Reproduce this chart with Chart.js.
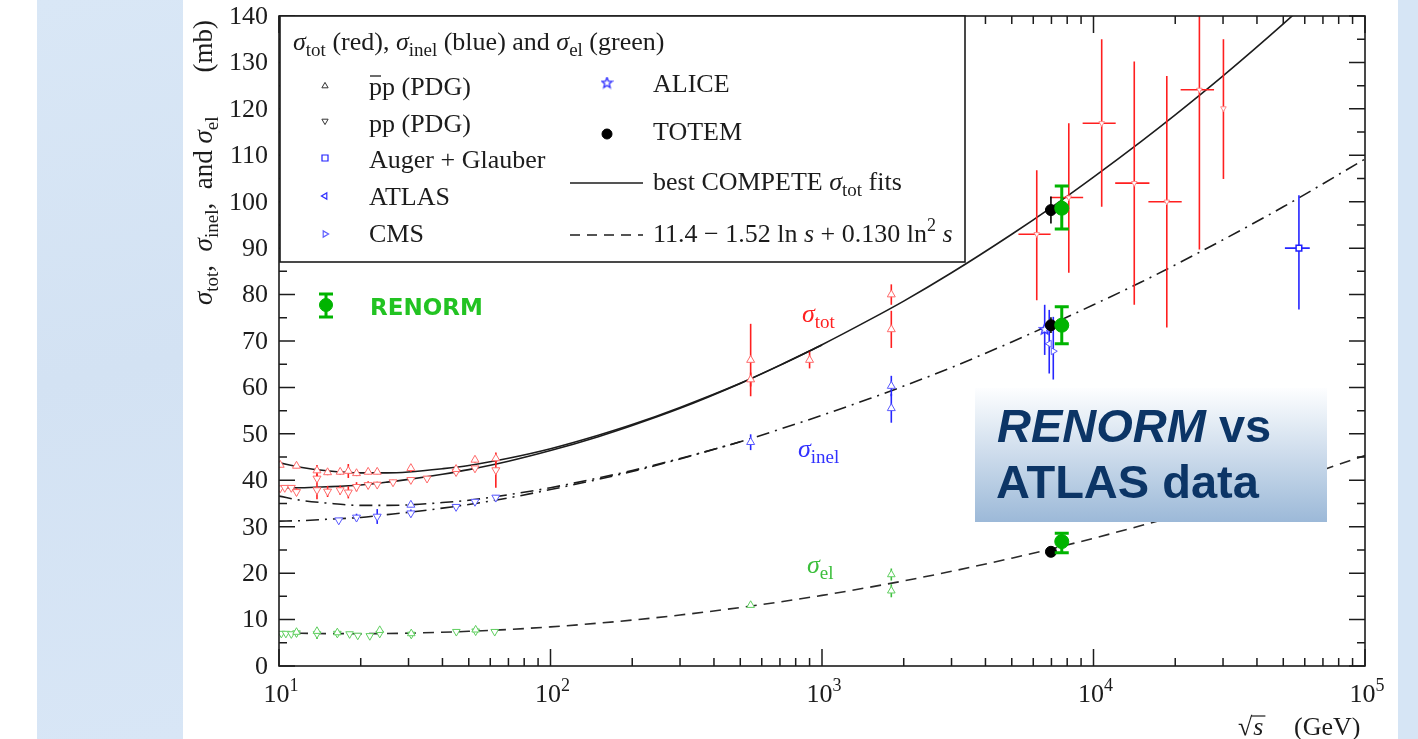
<!DOCTYPE html>
<html>
<head>
<meta charset="utf-8">
<script src="https://cdn.jsdelivr.net/npm/chart.js@4.4.1/dist/chart.umd.min.js"></script>
<style>
  html, body { margin: 0; padding: 0; background: #ffffff; overflow: hidden; }
  canvas { display: block; }
</style>
</head>
<body>
<canvas id="c" width="1418" height="739"></canvas>
<script>
// ---------------- data (sqrt(s) in GeV, cross sections in mb) ----------------

// axis ticks
const yTickValues = [0, 10, 20, 30, 40, 50, 60, 70, 80, 90, 100, 110, 120, 130, 140];
const xTickExponents = [1, 2, 3, 4, 5];

// PDG sigma_tot, pbar-p
const pbarTotS = [10.1, 11.6, 13.8, 15.1, 16.8, 18.0, 19.3, 21.3, 23.0, 30.6, 44.9, 52.7, 62.9, 546, 546, 900, 1800, 1800];
const pbarTotV = [43.3, 43.1, 42.1, 41.7, 41.8, 42.0, 41.5, 41.8, 41.8, 42.6, 42.4, 44.4, 44.7, 61.7, 65.9, 65.9, 80.0, 72.5];
const pbarTotE = [0.5, 0.5, 1.2, 0.6, 0.6, 1.5, 0.6, 0.5, 0.5, 0.8, 0.5, 0.6, 1.0, 1.5, 7.8, 1.8, 2.2, 4.0];

// PDG sigma_tot, pp
const ppTotS = [10.1, 10.5, 11.1, 11.6, 13.8, 13.8, 15.1, 16.8, 18.0, 19.3, 21.3, 23.0, 26.3, 30.6, 35.1, 44.9, 52.7, 62.9];
const ppTotV = [38.3, 38.4, 38.4, 37.5, 37.9, 40.4, 37.6, 37.9, 37.4, 38.6, 39.0, 39.1, 39.6, 40.1, 40.4, 41.8, 42.6, 42.2];
const ppTotE = [0.4, 0.4, 0.4, 0.8, 2.0, 1.0, 1.2, 1.0, 1.3, 1.0, 0.8, 0.6, 0.5, 0.5, 0.5, 0.4, 0.4, 3.8];

// PDG sigma_inel
const pbarInelS = [30.6, 546, 1800, 1800];
const pbarInelV = [34.7, 48.2, 60.3, 55.5];
const pbarInelE = [0.5, 1.7, 2.2, 3.1];
const ppInelS = [16.6, 19.3, 23.0, 30.6, 44.9, 52.7, 62.9];
const ppInelV = [31.4, 32.0, 32.2, 32.9, 34.3, 35.4, 36.3];
const ppInelE = [0.4, 0.8, 1.6, 0.8, 0.4, 0.4, 0.5];

// PDG sigma_el
const pbarElS = [11.6, 13.8, 16.4, 23.5, 30.7, 53.0, 546, 1800, 1800];
const pbarElV = [7.3, 7.5, 7.2, 7.7, 7.0, 7.8, 13.1, 19.7, 16.2];
const pbarElE = [0.3, 0.6, 0.4, 0.4, 0.3, 0.4, 0.4, 1.3, 1.4];
const ppElS = [10.2, 10.6, 11.1, 11.6, 13.8, 16.4, 18.2, 19.5, 21.6, 23.5, 30.7, 45.0, 53.0, 62.3];
const ppElV = [7.0, 7.0, 6.9, 7.1, 6.9, 7.0, 6.9, 6.6, 6.5, 7.0, 6.8, 7.4, 7.5, 7.4];
const ppElE = [0.3, 0.3, 0.3, 0.8, 1.1, 0.3, 0.3, 0.3, 0.3, 0.3, 0.3, 0.3, 0.4, 0.3];

// cosmic-ray sigma_tot (energy bins and asymmetric errors)
const crS   = [6180, 8110, 10720, 14130, 18620, 24550, 30100];
const crSLo = [5290, 6920, 9120, 12020, 15930, 20940, null];
const crSHi = [6950, 9160, 12070, 16070, 21130, 27800, null];
const crV   = [93.0, 100.9, 116.9, 104.0, 100.0, 124.1, 120.1];
const crVLo = [78.8, 84.7, 98.9, 77.8, 72.9, 89.7, 104.9];
const crVHi = [106.8, 116.9, 135.0, 130.2, 127.1, 152.0, 135.0];

// Auger + Glauber sigma_inel
const augerS = [57100], augerSLo = [50700], augerSHi = [62600];
const augerV = [90.0], augerVLo = [76.8], augerVHi = [101.4];

// LHC 7 TeV sigma_inel
const aliceS = [6610], aliceV = [72.5], aliceLo = [67.0], aliceHi = [77.8];
const atlasS = [6870], atlasV = [69.4], atlasLo = [63.0], atlasHi = [76.7];
const cmsS   = [7110], cmsV   = [67.8], cmsLo   = [61.7], cmsHi   = [75.2];

// TOTEM (tot, inel, el)
const totemS = [6970, 6970, 6970];
const totemV = [98.2, 73.4, 24.6];
const totemE = [2.9, 1.7, 1.0];

// RENORM (tot, inel, el)
const renormS  = [7640, 7640, 7640];
const renormV  = [98.6, 73.4, 26.8];
const renormLo = [94.1, 69.4, 24.4];
const renormHi = [103.4, 77.4, 28.6];

// best COMPETE sigma_tot fits
const fitTotS    = [10, 12, 15, 20, 25, 30, 40, 50, 70, 100, 150, 200, 300, 500, 700, 1000, 1500, 2000, 3000, 5000, 7000, 10000, 15000, 20000, 30000, 50000, 60000];
const fitTotPbar = [43.8, 42.8, 42.05, 41.6, 41.6, 41.8, 42.5, 43.2, 44.75, 46.8, 49.7, 52.0, 55.7, 60.9, 64.8, 69.2, 74.6, 78.6, 84.7, 93.0, 98.8, 105.3, 113.0, 118.7, 127.1, 138.3, 142.5];
const fitTotPpS  = [10, 12, 15, 20, 25, 30, 40, 50, 70, 100, 150, 200, 300, 500, 700, 1000];
const fitTotPp   = [38.4, 38.4, 38.6, 39.0, 39.6, 40.2, 41.3, 42.3, 44.1, 46.4, 49.4, 51.8, 55.5, 60.85, 64.75, 69.15];

// inelastic curves
const fitInelS    = [10, 12, 15, 20, 25, 30, 40, 50, 70, 100, 150, 200, 300, 500, 700, 1000, 1500, 2000, 3000, 5000, 7000, 10000, 15000, 20000, 30000, 50000, 100000];
const fitInelPbar = [36.6, 35.7, 35.1, 34.6, 34.6, 34.7, 35.2, 35.7, 36.9, 38.4, 40.5, 42.1, 44.7, 48.3, 51.0, 54.0, 57.6, 60.3, 64.3, 69.8, 73.6, 77.8, 82.7, 86.4, 91.8, 98.9, 109.2];
const fitInelPpS  = [10, 12, 15, 20, 25, 30, 40, 50, 70, 100, 150, 200, 300, 500];
const fitInelPp   = [31.2, 31.3, 31.6, 32.0, 32.6, 33.1, 34.0, 34.8, 36.2, 38.0, 40.2, 41.9, 44.6, 48.3];

// elastic curve 11.4 - 1.52 ln s + 0.130 ln^2 s
const fitElS = [10, 12, 15, 20, 30, 50, 70, 100, 150, 200, 300, 500, 700, 1000, 1500, 2000, 3000, 5000, 7000, 10000, 15000, 20000, 30000, 50000, 100000];
const fitElV = [7.16, 7.06, 6.98, 6.96, 7.08, 7.47, 7.87, 8.43, 9.22, 9.89, 10.98, 12.59, 13.80, 15.21, 16.98, 18.33, 20.39, 23.23, 25.24, 27.51, 30.25, 32.29, 35.32, 39.39, 45.33];

// ---------------- helpers ----------------
const SERIF = '"Liberation Serif","Times New Roman",serif';
const SANS = '"Liberation Sans",Arial,sans-serif';
const rm = s => `${s}px ${SERIF}`;
const it = s => `italic ${s}px ${SERIF}`;

const sym = (xs, vs, es) => xs.map((x, i) => ({ x, y: vs[i], lo: vs[i] - es[i], hi: vs[i] + es[i] }));
const asym = (xs, vs, lo, hi) => xs.map((x, i) => ({ x, y: vs[i], lo: lo[i], hi: hi[i] }));
const asymX = (xs, xlo, xhi, vs, lo, hi) => xs.map((x, i) => {
  const p = { x, y: vs[i], lo: lo[i], hi: hi[i] };
  if (xlo[i] !== null) { p.xlo = xlo[i]; p.xhi = xhi[i]; }
  return p;
});
const curve = (xs, vs) => xs.map((x, i) => ({ x, y: vs[i] }));

// hollow five-pointed star marker
function starImage(color) {
  const c = document.createElement('canvas');
  c.width = 13; c.height = 13;
  const g = c.getContext('2d');
  g.beginPath();
  for (let k = 0; k < 10; k++) {
    const r = k % 2 ? 2.4 : 5.5;
    const a = -Math.PI / 2 + k * Math.PI / 5;
    const px = 6.5 + r * Math.cos(a), py = 6.5 + r * Math.sin(a);
    k ? g.lineTo(px, py) : g.moveTo(px, py);
  }
  g.closePath();
  g.fillStyle = '#fff'; g.fill();
  g.strokeStyle = color; g.lineWidth = 1.3; g.stroke();
  return c;
}
const aliceStar = starImage('#2a2aff');

// rich text: parts = [{t, f, dy}]
function rich(ctx, x, y, parts) {
  let cx = x;
  for (const p of parts) {
    ctx.font = p.f;
    ctx.fillText(p.t, cx, y + (p.dy || 0));
    cx += ctx.measureText(p.t).width;
  }
  return cx - x;
}
function richWidth(ctx, parts) {
  let w = 0;
  for (const p of parts) { ctx.font = p.f; w += ctx.measureText(p.t).width; }
  return w;
}
const sig = (sub, size) => [{ t: 'σ', f: it(size) }, { t: sub, f: rm(Math.round(size * 0.72)), dy: Math.round(size * 0.22) }];

function mark(ctx, kind, x, y, r, stroke, fill, lw) {
  ctx.save();
  ctx.strokeStyle = stroke; ctx.fillStyle = fill; ctx.lineWidth = lw || 1;
  ctx.beginPath();
  const tri = rot => {
    for (let k = 0; k < 3; k++) {
      const a = rot - Math.PI / 2 + k * 2 * Math.PI / 3;
      const px = x + r * Math.cos(a), py = y + r * Math.sin(a);
      k ? ctx.lineTo(px, py) : ctx.moveTo(px, py);
    }
    ctx.closePath();
  };
  if (kind === 'up') tri(0);
  else if (kind === 'down') tri(Math.PI);
  else if (kind === 'left') tri(-Math.PI / 2);
  else if (kind === 'right') tri(Math.PI / 2);
  else if (kind === 'square') ctx.rect(x - r, y - r, 2 * r, 2 * r);
  else if (kind === 'circle') ctx.arc(x, y, r, 0, 2 * Math.PI);
  ctx.fill(); ctx.stroke();
  ctx.restore();
}

// ---------------- colours ----------------
const RED_BAR = '#ff1f1f', RED_MK = '#ff6a6a';
const BLUE_BAR = '#2626ff', BLUE_MK = '#5a5aff';
const GREEN_BAR = '#3fbf3f', GREEN_MK = '#5fcf5f';
const RENORM_GREEN = '#00b400';
const INK = '#1c1c1c';

// ---------------- plugins ----------------
const backdrop = {
  id: 'backdrop',
  beforeDraw(chart) {
    const ctx = chart.ctx;
    ctx.save();
    ctx.fillStyle = '#ffffff';
    ctx.fillRect(0, 0, chart.width, chart.height);
    const g1 = ctx.createLinearGradient(37, 0, 183, 739);
    g1.addColorStop(0, '#d9e7f6'); g1.addColorStop(0.5, '#d3e2f3'); g1.addColorStop(1, '#d8e6f6');
    ctx.fillStyle = g1;
    ctx.fillRect(37, 0, 146, 739);
    ctx.fillStyle = '#d6e5f5';
    ctx.fillRect(1398, 0, 20, 739);
    ctx.restore();
  }
};

const errorBars = {
  id: 'errorBars',
  beforeDatasetDraw(chart, args) {
    const ds = chart.data.datasets[args.index];
    const eb = ds.errorBar;
    if (!eb) return;
    const { ctx, chartArea: a } = chart;
    const xs = chart.scales.x, ys = chart.scales.y;
    ctx.save();
    ctx.beginPath();
    ctx.rect(a.left, a.top, a.right - a.left, a.bottom - a.top);
    ctx.clip();
    ctx.strokeStyle = eb.color;
    ctx.lineWidth = eb.width;
    for (const p of ds.data) {
      const px = xs.getPixelForValue(p.x), py = ys.getPixelForValue(p.y);
      ctx.beginPath();
      if (p.lo !== undefined) {
        const y1 = ys.getPixelForValue(p.lo), y2 = ys.getPixelForValue(p.hi);
        ctx.moveTo(px, y1); ctx.lineTo(px, y2);
        if (eb.cap) {
          ctx.moveTo(px - eb.cap, y1); ctx.lineTo(px + eb.cap, y1);
          ctx.moveTo(px - eb.cap, y2); ctx.lineTo(px + eb.cap, y2);
        }
      }
      if (p.xlo !== undefined) {
        ctx.moveTo(xs.getPixelForValue(p.xlo), py);
        ctx.lineTo(xs.getPixelForValue(p.xhi), py);
      }
      ctx.stroke();
    }
    ctx.restore();
  }
};

const frame = {
  id: 'frame',
  afterDatasetsDraw(chart) {
    const { ctx, chartArea: a } = chart;
    const xs = chart.scales.x, ys = chart.scales.y;
    ctx.save();

    // axes box
    ctx.strokeStyle = INK; ctx.lineWidth = 1.6;
    ctx.strokeRect(a.left, a.top, a.right - a.left, a.bottom - a.top);

    // y ticks (both sides, inward)
    ctx.lineWidth = 1.5;
    ctx.beginPath();
    for (let v = 0; v <= 140; v += 5) {
      const y = ys.getPixelForValue(v);
      const len = v % 10 === 0 ? 16 : 8;
      ctx.moveTo(a.left, y); ctx.lineTo(a.left + len, y);
      ctx.moveTo(a.right, y); ctx.lineTo(a.right - len, y);
    }
    // x ticks (bottom and top, inward)
    for (let e = 1; e <= 5; e++) {
      for (let m = 1; m <= 9; m++) {
        if (e === 5 && m > 1) break;
        const v = m * Math.pow(10, e);
        const x = xs.getPixelForValue(v);
        const len = m === 1 ? 17 : 8;
        ctx.moveTo(x, a.bottom); ctx.lineTo(x, a.bottom - len);
        ctx.moveTo(x, a.top); ctx.lineTo(x, a.top + len);
      }
    }
    ctx.stroke();

    // y tick labels
    ctx.fillStyle = INK;
    ctx.font = rm(26);
    ctx.textAlign = 'right';
    ctx.textBaseline = 'middle';
    for (const v of yTickValues) ctx.fillText(String(v), 268, ys.getPixelForValue(v) + 1);

    // x tick labels 10^n
    ctx.textAlign = 'left';
    ctx.textBaseline = 'alphabetic';
    for (const e of xTickExponents) {
      const x = xs.getPixelForValue(Math.pow(10, e));
      const parts = [{ t: '10', f: rm(26) }, { t: String(e), f: rm(18), dy: -11 }];
      const w = richWidth(ctx, parts);
      rich(ctx, x - w / 2 + 2, 702, parts);
    }

    // x axis title: sqrt(s) (GeV)
    ctx.font = rm(26);
    ctx.fillText('√', 1238, 735);
    const rw = ctx.measureText('√').width;
    ctx.font = it(26);
    ctx.fillText('s', 1238 + rw + 1, 735);
    const sw = ctx.measureText('s').width;
    ctx.beginPath(); ctx.lineWidth = 1.2;
    ctx.moveTo(1238 + rw - 1, 716); ctx.lineTo(1238 + rw + sw + 3, 716); ctx.stroke();
    ctx.font = rm(26);
    ctx.fillText('(GeV)', 1294, 735);

    // y axis title (rotated), running from y=305 up to y=20
    const yt = [...sig('tot', 27), { t: ',  ', f: rm(27) }, ...sig('inel', 27), { t: ',  and ', f: rm(27) }, ...sig('el', 27)];
    ctx.save();
    ctx.translate(212, 305);
    ctx.rotate(-Math.PI / 2);
    rich(ctx, 0, 0, yt);
    ctx.font = rm(27);
    ctx.textAlign = 'right';
    ctx.fillText('(mb)', 285, 0);
    ctx.restore();
    ctx.textAlign = 'left';

    // curve labels
    ctx.fillStyle = '#ff2020';
    rich(ctx, 802, 322, sig('tot', 26));
    ctx.fillStyle = '#3232ff';
    rich(ctx, 798, 457, sig('inel', 26));
    ctx.fillStyle = '#3cbf3c';
    rich(ctx, 807, 573, sig('el', 26));

    // legend box
    ctx.fillStyle = '#ffffff';
    ctx.fillRect(280, 16, 685, 246);
    ctx.strokeStyle = INK; ctx.lineWidth = 1.6;
    ctx.strokeRect(280, 16, 685, 246);
    ctx.fillStyle = INK;
    rich(ctx, 293, 50, [...sig('tot', 26), { t: ' (red), ', f: rm(26) }, ...sig('inel', 26), { t: ' (blue) and ', f: rm(26) }, ...sig('el', 26), { t: ' (green)', f: rm(26) }]);

    const lx = 325, tx = 369;
    mark(ctx, 'up', lx, 86, 3.6, '#333', '#fff', 1);
    mark(ctx, 'down', lx, 121, 3.6, '#333', '#fff', 1);
    mark(ctx, 'square', lx, 158, 3, '#2020ff', '#fff', 1.2);
    mark(ctx, 'left', lx, 196, 3.6, '#3030ff', '#fff', 1.2);
    mark(ctx, 'right', lx, 234, 3.6, '#6060ff', '#fff', 1.2);
    ctx.font = rm(26);
    ctx.fillText('pp (PDG)', tx, 95);
    ctx.beginPath(); ctx.lineWidth = 1.3;
    ctx.moveTo(tx + 1, 76); ctx.lineTo(tx + 12, 76); ctx.stroke();
    ctx.fillText('pp (PDG)', tx, 132);
    ctx.fillText('Auger + Glauber', tx, 168);
    ctx.fillText('ATLAS', tx, 205);
    ctx.fillText('CMS', tx, 242);

    const rx = 607, rtx = 653;
    ctx.drawImage(aliceStar, rx - 6.5, 83 - 6.5);
    mark(ctx, 'circle', rx, 134, 5, '#000', '#000', 1);
    ctx.fillStyle = INK;
    ctx.font = rm(26);
    ctx.fillText('ALICE', rtx, 92);
    ctx.fillText('TOTEM', rtx, 140);
    ctx.beginPath(); ctx.lineWidth = 1.5; ctx.strokeStyle = INK;
    ctx.moveTo(570, 183); ctx.lineTo(643, 183); ctx.stroke();
    rich(ctx, rtx, 190, [{ t: 'best COMPETE ', f: rm(26) }, ...sig('tot', 26), { t: ' fits', f: rm(26) }]);
    ctx.beginPath(); ctx.setLineDash([10, 7]);
    ctx.moveTo(570, 235); ctx.lineTo(643, 235); ctx.stroke();
    ctx.setLineDash([]);
    rich(ctx, rtx, 242, [
      { t: '11.4 − 1.52 ln ', f: rm(26) }, { t: 's', f: it(26) },
      { t: ' + 0.130 ln', f: rm(26) }, { t: '2', f: rm(18), dy: -11 }, { t: ' ', f: rm(26) }, { t: 's', f: it(26) }
    ]);

    // RENORM key
    ctx.strokeStyle = RENORM_GREEN; ctx.lineWidth = 3;
    ctx.beginPath();
    ctx.moveTo(326, 294); ctx.lineTo(326, 317);
    ctx.moveTo(319, 294); ctx.lineTo(333, 294);
    ctx.moveTo(319, 317); ctx.lineTo(333, 317);
    ctx.stroke();
    mark(ctx, 'circle', 326, 305, 6.5, RENORM_GREEN, RENORM_GREEN, 1);
    ctx.fillStyle = '#22c322';
    ctx.font = 'bold 23px "DejaVu Sans",Verdana,sans-serif';
    ctx.fillText('RENORM', 370, 315);

    // title panel
    const gy = ctx.createLinearGradient(0, 388, 0, 522);
    gy.addColorStop(0, '#fdfeff');
    gy.addColorStop(1, '#9cb9d8');
    ctx.fillStyle = gy;
    ctx.fillRect(975, 388, 352, 134);
    ctx.fillStyle = '#0c3566';
    ctx.font = `italic bold 47px ${SANS}`;
    ctx.fillText('RENORM', 997, 442);
    const w1 = ctx.measureText('RENORM ').width;
    ctx.font = `bold 47px ${SANS}`;
    ctx.fillText('vs', 997 + w1, 442);
    ctx.fillText('ATLAS data', 996, 498);

    ctx.restore();
  }
};

// ---------------- chart ----------------
const pts = (data, style, color, radius, extra) => Object.assign({
  data, showLine: false, pointStyle: style, pointRadius: radius, pointHoverRadius: radius,
  pointBorderColor: color, pointBackgroundColor: '#ffffff', pointBorderWidth: 1, order: 0
}, extra || {});

const datasets = [
  // RENORM and TOTEM on top
  pts(asym(renormS, renormV, renormLo, renormHi), 'circle', RENORM_GREEN, 7,
      { pointBackgroundColor: RENORM_GREEN, errorBar: { color: RENORM_GREEN, width: 3, cap: 7 } }),
  pts(sym(totemS, totemV, totemE), 'circle', '#000', 5.5,
      { pointBackgroundColor: '#000', errorBar: { color: '#000', width: 1.6 } }),
  // LHC sigma_inel
  pts(asym(aliceS, aliceV, aliceLo, aliceHi), aliceStar, BLUE_MK, 5, { errorBar: { color: BLUE_BAR, width: 1.6 } }),
  pts(asym(atlasS, atlasV, atlasLo, atlasHi), 'triangle', BLUE_MK, 4, { rotation: -90, errorBar: { color: BLUE_BAR, width: 1.6 } }),
  pts(asym(cmsS, cmsV, cmsLo, cmsHi), 'triangle', BLUE_MK, 4, { rotation: 90, errorBar: { color: BLUE_BAR, width: 1.6 } }),
  // Auger
  pts(asymX(augerS, augerSLo, augerSHi, augerV, augerVLo, augerVHi), 'rect', '#2020ff', 4,
      { pointBorderWidth: 1.5, errorBar: { color: BLUE_BAR, width: 1.6 } }),
  // cosmic rays
  pts(asymX(crS, crSLo, crSHi, crV, crVLo, crVHi), 'triangle', '#ff8a8a', 3.2,
      { rotation: 180, errorBar: { color: RED_BAR, width: 1.6 } }),
  // PDG sigma_tot
  pts(sym(pbarTotS, pbarTotV, pbarTotE), 'triangle', RED_MK, 4.6, { errorBar: { color: RED_BAR, width: 1.6 } }),
  pts(sym(ppTotS, ppTotV, ppTotE), 'triangle', RED_MK, 4.6, { rotation: 180, errorBar: { color: RED_BAR, width: 1.6 } }),
  // PDG sigma_inel
  pts(sym(pbarInelS, pbarInelV, pbarInelE), 'triangle', BLUE_MK, 4.6, { errorBar: { color: BLUE_BAR, width: 1.6 } }),
  pts(sym(ppInelS, ppInelV, ppInelE), 'triangle', BLUE_MK, 4.6, { rotation: 180, errorBar: { color: BLUE_BAR, width: 1.6 } }),
  // PDG sigma_el
  pts(sym(pbarElS, pbarElV, pbarElE), 'triangle', GREEN_MK, 4.4, { errorBar: { color: GREEN_BAR, width: 1.6 } }),
  pts(sym(ppElS, ppElV, ppElE), 'triangle', GREEN_MK, 4.4, { rotation: 180, errorBar: { color: GREEN_BAR, width: 1.6 } }),

  // fitted curves (drawn underneath)
  { data: curve(fitTotS, fitTotPbar), showLine: true, pointRadius: 0, borderColor: INK, borderWidth: 1.6, cubicInterpolationMode: 'monotone', order: 5 },
  { data: curve(fitTotPpS, fitTotPp), showLine: true, pointRadius: 0, borderColor: INK, borderWidth: 1.6, cubicInterpolationMode: 'monotone', order: 5 },
  { data: curve(fitInelS, fitInelPbar), showLine: true, pointRadius: 0, borderColor: INK, borderWidth: 1.6, borderDash: [13, 6, 2, 6], cubicInterpolationMode: 'monotone', order: 5 },
  { data: curve(fitInelPpS, fitInelPp), showLine: true, pointRadius: 0, borderColor: INK, borderWidth: 1.6, borderDash: [13, 6, 2, 6], cubicInterpolationMode: 'monotone', order: 5 },
  { data: curve(fitElS, fitElV), showLine: true, pointRadius: 0, borderColor: '#2a2a2a', borderWidth: 1.6, borderDash: [11, 7], cubicInterpolationMode: 'monotone', order: 5 }
];

new Chart(document.getElementById('c'), {
  type: 'scatter',
  data: { datasets },
  options: {
    responsive: false,
    animation: false,
    devicePixelRatio: 1,
    events: [],
    layout: { padding: { left: 279, right: 53, top: 16, bottom: 73 } },
    scales: {
      x: { type: 'logarithmic', min: 10, max: 100000, display: false },
      y: { type: 'linear', min: 0, max: 140, display: false }
    },
    plugins: { legend: { display: false }, tooltip: { enabled: false } }
  },
  plugins: [backdrop, errorBars, frame]
});
</script>
</body>
</html>
